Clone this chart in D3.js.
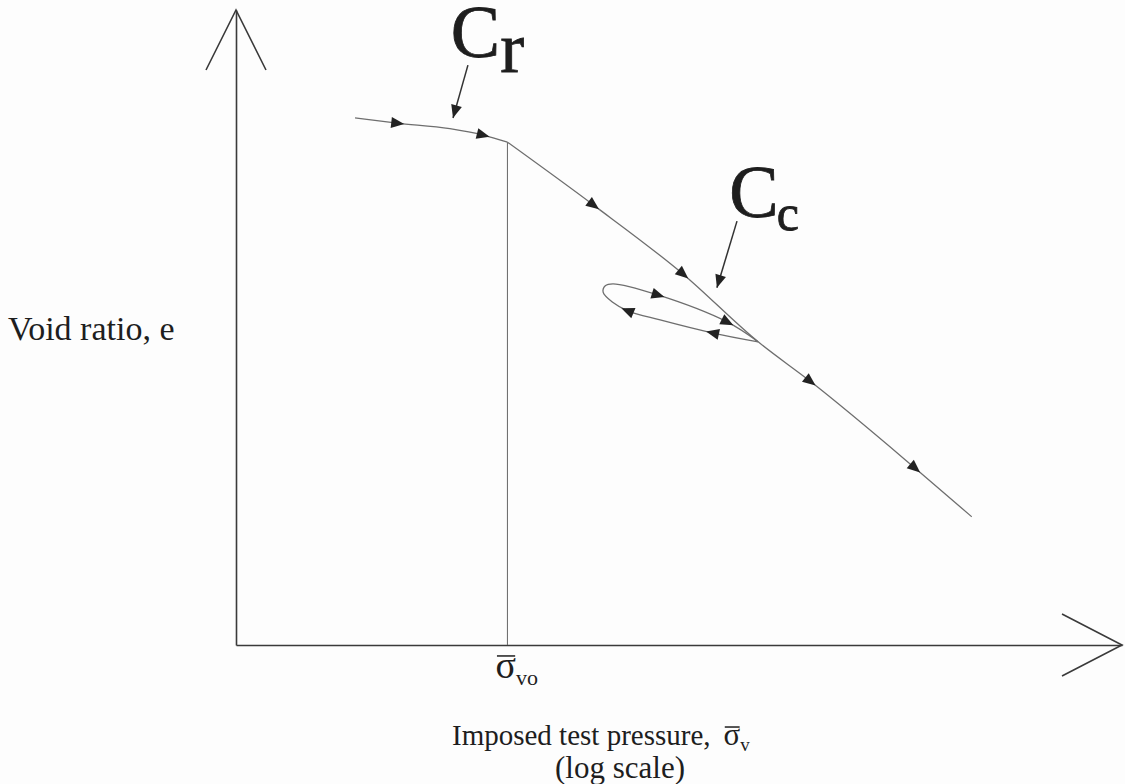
<!DOCTYPE html>
<html>
<head>
<meta charset="utf-8">
<script src="https://cdn.jsdelivr.net/npm/d3@7"></script>
<style>
  body { margin: 0; background: #fdfdfd; }
  text { font-family: "Liberation Serif", "Times New Roman", serif; fill: #1e1e1e; }
</style>
</head>
<body>
<script>
// recompression branch: pressure (kPa, log scale) and void ratio
var crPressure = [25.3, 35.1, 53, 68.6, 83];
var crVoid = [1.328, 1.315, 1.301, 1.285, 1.267];

// virgin compression line
var vcPressure = [83, 162, 326, 586, 878, 1990, 3100];
var vcVoid = [1.267, 1.109, 0.935, 0.764, 0.665, 0.446, 0.323];

// unload / reload loop, starts and ends on the virgin line
var loopPressure = [586, 412, 273, 212, 188, 175, 178, 189, 268, 460, 586];
var loopVoid = [0.764, 0.786, 0.819, 0.842, 0.864, 0.889, 0.905, 0.910, 0.882, 0.814, 0.764];

// preconsolidation pressure
var sigmaVo = 83;

// direction arrows along the curves
var arrowCurve = ['cr', 'cr', 'vc', 'vc', 'loop', 'loop', 'loop', 'loop', 'vc', 'vc'];
var arrowPressure = [35.1, 68.6, 162, 326, 412, 212, 268, 460, 878, 1990];
var arrowVoid = [1.315, 1.285, 1.109, 0.935, 0.786, 0.842, 0.882, 0.814, 0.665, 0.446];

// index labels with pointer arrows
var noteMain = ['C', 'C'];
var noteSub = ['r', 'c'];
var notePressure = [53.4, 468];
var noteVoid = [1.482, 1.078];
var pointerFromP = [61.0, 497];
var pointerFromE = [1.461, 1.068];
var pointerToP = [54.3, 425];
var pointerToE = [1.328, 0.900];

var width = 1125, height = 784;

var svg = d3.select('body').append('svg')
  .attr('width', width)
  .attr('height', height);

svg.append('rect')
  .attr('width', width)
  .attr('height', height)
  .attr('fill', '#fdfdfd');

var x = d3.scaleLog().domain([10, 10000]).range([236, 1122]);
var y = d3.scaleLinear().domain([0, 1.6]).range([645, 10]);

// axes without ticks
svg.append('g')
  .attr('transform', 'translate(0,' + y(0) + ')')
  .call(d3.axisBottom(x).tickValues([]).tickSizeOuter(0));

svg.append('g')
  .attr('transform', 'translate(' + x.range()[0] + ',0)')
  .call(d3.axisLeft(y).tickValues([]).tickSizeOuter(0));

svg.selectAll('.domain')
  .attr('stroke', '#3a3a3a')
  .attr('stroke-width', 1.6);

// open arrow heads at the axis ends
var x0 = x.range()[0], x1 = x.range()[1], y0 = y.range()[0], y1 = y.range()[1];
var heads = d3.path();
heads.moveTo(x0 - 30, y1 + 60); heads.lineTo(x0, y1); heads.lineTo(x0 + 30, y1 + 60);
heads.moveTo(x1 - 60, y0 - 31); heads.lineTo(x1, y0); heads.lineTo(x1 - 60, y0 + 31);
svg.append('path')
  .attr('d', heads.toString())
  .attr('fill', 'none')
  .attr('stroke', '#3a3a3a')
  .attr('stroke-width', 1.6);

// vertical line at sigma_vo
svg.append('line')
  .attr('x1', x(sigmaVo)).attr('x2', x(sigmaVo))
  .attr('y1', y(crVoid[crVoid.length - 1])).attr('y2', y(0))
  .attr('stroke', '#666')
  .attr('stroke-width', 1);

function pts(ps, es) { return ps.map(function (p, i) { return [p, es[i]]; }); }

function lineWith(curve) {
  return d3.line()
    .x(function (d) { return x(d[0]); })
    .y(function (d) { return y(d[1]); })
    .curve(curve);
}

var curves = {
  cr: [pts(crPressure, crVoid), d3.curveMonotoneX],
  vc: [pts(vcPressure, vcVoid), d3.curveMonotoneX],
  loop: [pts(loopPressure, loopVoid), d3.curveCatmullRom.alpha(0.5)]
};

var paths = {};
Object.keys(curves).forEach(function (k) {
  paths[k] = svg.append('path')
    .datum(curves[k][0])
    .attr('d', lineWith(curves[k][1]))
    .attr('fill', 'none')
    .attr('stroke', '#6e6e6e')
    .attr('stroke-width', 1.3)
    .node();
});

// put an arrow on the path nearest to a data point, pointing along the path
function placeOnPath(node, px, py) {
  var L = node.getTotalLength(), best = 0, bd = Infinity;
  for (var l = 0; l <= L; l += 0.5) {
    var q = node.getPointAtLength(l);
    var dd = (q.x - px) * (q.x - px) + (q.y - py) * (q.y - py);
    if (dd < bd) { bd = dd; best = l; }
  }
  var a = node.getPointAtLength(Math.max(0, best - 2));
  var b = node.getPointAtLength(Math.min(L, best + 2));
  var p = node.getPointAtLength(best);
  return { x: p.x, y: p.y, angle: Math.atan2(b.y - a.y, b.x - a.x) * 180 / Math.PI };
}

svg.append('g')
  .selectAll('path')
  .data(arrowPressure.map(function (p, i) {
    return placeOnPath(paths[arrowCurve[i]], x(p), y(arrowVoid[i]));
  }))
  .enter().append('path')
  .attr('d', 'M7,0L-6,-5.5L-6,5.5Z')
  .attr('fill', '#222')
  .attr('transform', function (d) { return 'translate(' + d.x + ',' + d.y + ') rotate(' + d.angle + ')'; });

// C_r and C_c labels
var notes = svg.append('g')
  .selectAll('g')
  .data(noteMain.map(function (m, i) { return i; }))
  .enter().append('g');

notes.append('line')
  .attr('x1', function (i) { return x(pointerFromP[i]); })
  .attr('y1', function (i) { return y(pointerFromE[i]); })
  .attr('x2', function (i) { return x(pointerToP[i]); })
  .attr('y2', function (i) { return y(pointerToE[i]); })
  .attr('stroke', '#333')
  .attr('stroke-width', 1.5);

notes.append('path')
  .attr('d', 'M0,0L-13,-5.5L-13,5.5Z')
  .attr('fill', '#222')
  .attr('transform', function (i) {
    var ax = x(pointerFromP[i]), ay = y(pointerFromE[i]);
    var bx = x(pointerToP[i]), by = y(pointerToE[i]);
    var ang = Math.atan2(by - ay, bx - ax) * 180 / Math.PI;
    return 'translate(' + bx + ',' + by + ') rotate(' + ang + ')';
  });

var noteText = notes.append('text')
  .attr('x', function (i) { return x(notePressure[i]); })
  .attr('y', function (i) { return y(noteVoid[i]); })
  .style('font-size', '74px')
  .style('stroke', '#1e1e1e')
  .style('stroke-width', 0.8);

noteText.append('tspan')
  .text(function (i) { return noteMain[i]; });

noteText.append('tspan')
  .attr('dx', function (i) { return i === 0 ? 0 : -2; })
  .attr('dy', function (i) { return i === 0 ? 15 : 13; })
  .style('font-size', function (i) { return i === 0 ? '72px' : '50px'; })
  .text(function (i) { return noteSub[i]; });

// overbar above a sigma character of a text element
function overbar(textSel, idx, fs) {
  var n = textSel.node();
  var s = n.getStartPositionOfChar(idx), e = n.getEndPositionOfChar(idx);
  svg.append('line')
    .attr('x1', s.x + fs * 0.04).attr('x2', e.x - fs * 0.02)
    .attr('y1', s.y - fs * 0.58).attr('y2', s.y - fs * 0.58)
    .attr('stroke', '#1e1e1e')
    .attr('stroke-width', 1.5);
}

// y axis label
svg.append('text')
  .attr('x', 8)
  .attr('y', 340)
  .style('font-size', '34px')
  .text('Void ratio, e');

// sigma_vo label under the axis
var svoText = svg.append('text')
  .attr('x', x(sigmaVo) - 12)
  .attr('y', 678)
  .style('font-size', '38px');
svoText.append('tspan').text('σ');
svoText.append('tspan')
  .attr('dy', 7)
  .style('font-size', '22px')
  .text('vo');
overbar(svoText, 0, 38);

// x axis label
var xLabel = svg.append('text')
  .attr('x', 452)
  .attr('y', 745)
  .style('font-size', '29px');
xLabel.append('tspan').text('Imposed test pressure,');
xLabel.append('tspan').attr('dx', 13).style('font-size', '31px').text('σ');
xLabel.append('tspan')
  .attr('dy', 6)
  .style('font-size', '19px')
  .text('v');
overbar(xLabel, 22, 31);

svg.append('text')
  .attr('x', 620)
  .attr('y', 778)
  .attr('text-anchor', 'middle')
  .style('font-size', '31px')
  .text('(log scale)');
</script>
</body>
</html>
